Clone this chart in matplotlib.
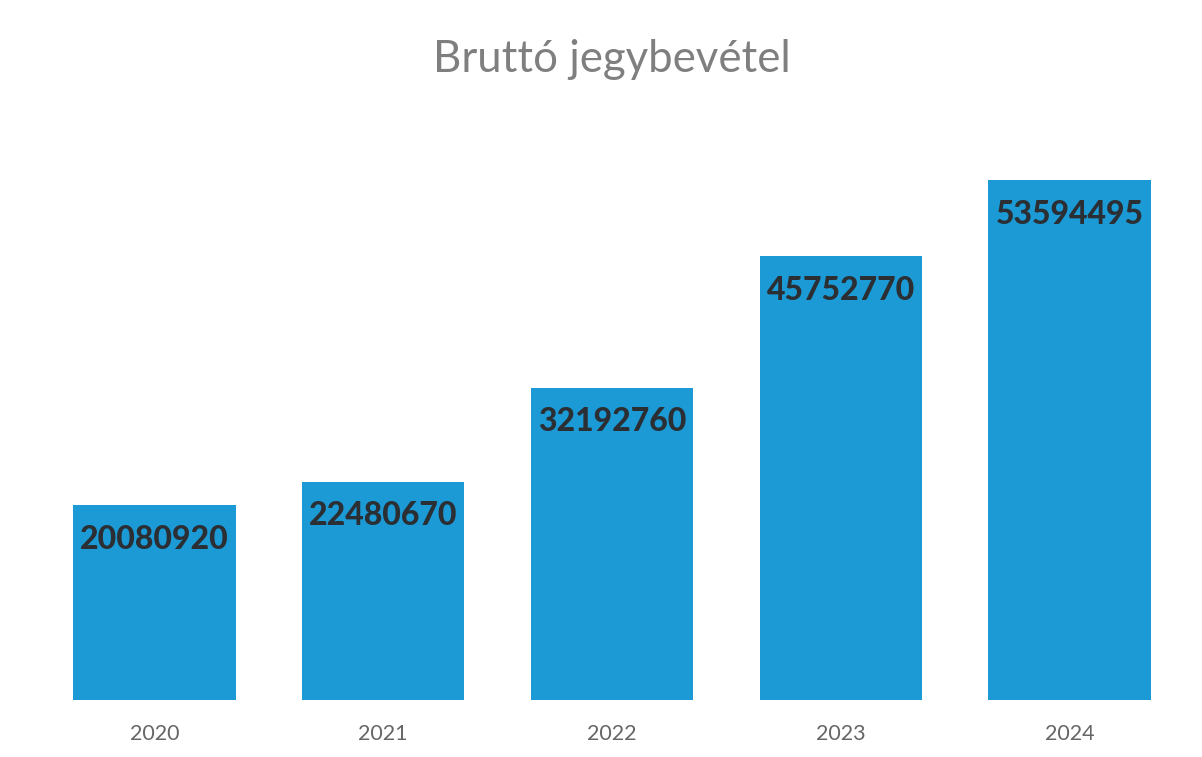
import matplotlib
matplotlib.use("Agg")
import matplotlib.pyplot as plt

years = ["2020", "2021", "2022", "2023", "2024"]
values = [20080920, 22480670, 32192760, 45752770, 53594495]
title = "Bruttó jegybevétel"

plt.rcParams['font.family'] = ['Lato', 'DejaVu Sans']

fig = plt.figure(figsize=(12.02, 7.57), dpi=100)
ax = fig.add_axes([40/1202, 57/757, (1184-40)/1202, (700-118)/757])
x = list(range(len(years)))
bars = ax.bar(x, values, width=0.71, color="#1b9ad6")
ax.set_xlim(-0.5, len(years) - 0.5)
ax.set_ylim(0, 60000000)
for xi, v in zip(x, values):
    ax.annotate(f"{v}", (xi, v), xytext=(0, -34), textcoords="offset pixels",
                ha="center", va="center", fontsize=23, fontweight="black", color="#2b2f33")
ax.set_xticks(x)
ax.set_xticklabels(years, fontsize=15.5, color="#666666")
ax.tick_params(axis="x", length=0, pad=17)
ax.set_yticks([])
for s in ax.spines.values():
    s.set_visible(False)
fig.text(612/1202, 1 - 60/757, title, ha="center", va="center", fontsize=31.5, color="#7f7f7f")
fig.savefig("out.png", dpi=100)
